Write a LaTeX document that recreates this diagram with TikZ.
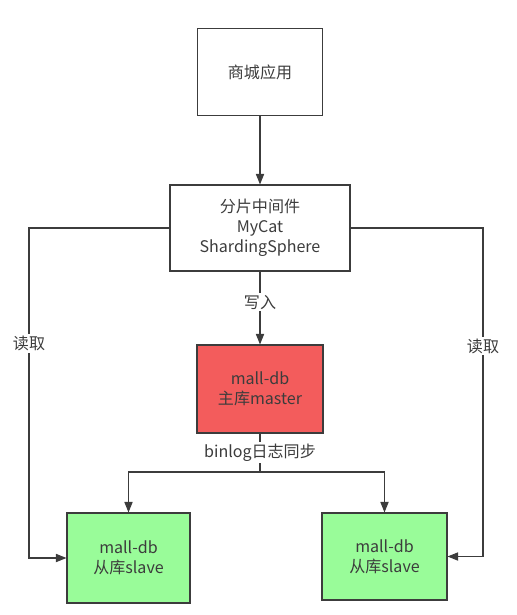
\documentclass[tikz,border=0pt]{standalone}
\usepackage{fontspec}
\setmainfont{Noto Sans CJK SC}
\usetikzlibrary{arrows.meta}
\definecolor{masterred}{RGB}{243,92,92}
\definecolor{slavegreen}{RGB}{153,252,153}
\definecolor{linegray}{RGB}{60,60,60}
\definecolor{textgray}{RGB}{60,60,60}
\begin{document}
\begin{tikzpicture}[x=0.03cm,y=-0.03cm,
    box/.style={draw=linegray,line width=0.9pt,align=center,text=textgray,
      font=\fontsize{13.7}{17}\selectfont,inner sep=0pt},
    conn/.style={draw=linegray,line width=0.9pt},
    arr/.style={conn,-{Triangle[length=9pt,width=7pt]}},
    lbl/.style={fill=white,text=textgray,font=\fontsize{13.7}{16}\selectfont,inner sep=1.5pt}]
    \useasboundingbox (0,0) rectangle (517,615);
    % boxes
    \node [box,minimum width=3.75cm,minimum height=2.61cm] (app) at (260,72) {商城应用};
    \node [box,minimum width=5.4cm,minimum height=2.58cm] (mid) at (260,228)
      {分片中间件\\MyCat\\ShardingSphere};
    \node [box,fill=masterred,minimum width=3.78cm,minimum height=2.64cm] (master) at (260,389)
      {mall-db\\主库master};
    \node [box,fill=slavegreen,minimum width=3.69cm,minimum height=2.7cm] (slaveL) at (128.5,558)
      {mall-db\\从库slave};
    \node [box,fill=slavegreen,minimum width=3.75cm,minimum height=2.61cm] (slaveR) at (384.5,556.5)
      {mall-db\\从库slave};
    \coordinate (split) at (260,472);
    \coordinate (lturn) at (29,228);
    \coordinate (rturn) at (483,228);
    % write path
    \draw [arr] (app) -- (mid);
    \draw [arr] (mid) -- node [lbl,pos=0.42] {写入} (master);
    % binlog sync
    \draw [conn] (master) -- node [lbl,pos=0.5] {binlog日志同步} (split);
    \draw [arr] (split) -| (slaveL.north);
    \draw [arr] (split) -| (slaveR.north);
    % read paths
    \draw [arr] (mid.west) -- (lturn) -- node [lbl,pos=0.35] {读取} (lturn |- slaveL.west) -- (slaveL.west);
    \draw [arr] (mid.east) -- (rturn) -- node [lbl,pos=0.36] {读取} (rturn |- slaveR.east) -- (slaveR.east);
\end{tikzpicture}
\end{document}
